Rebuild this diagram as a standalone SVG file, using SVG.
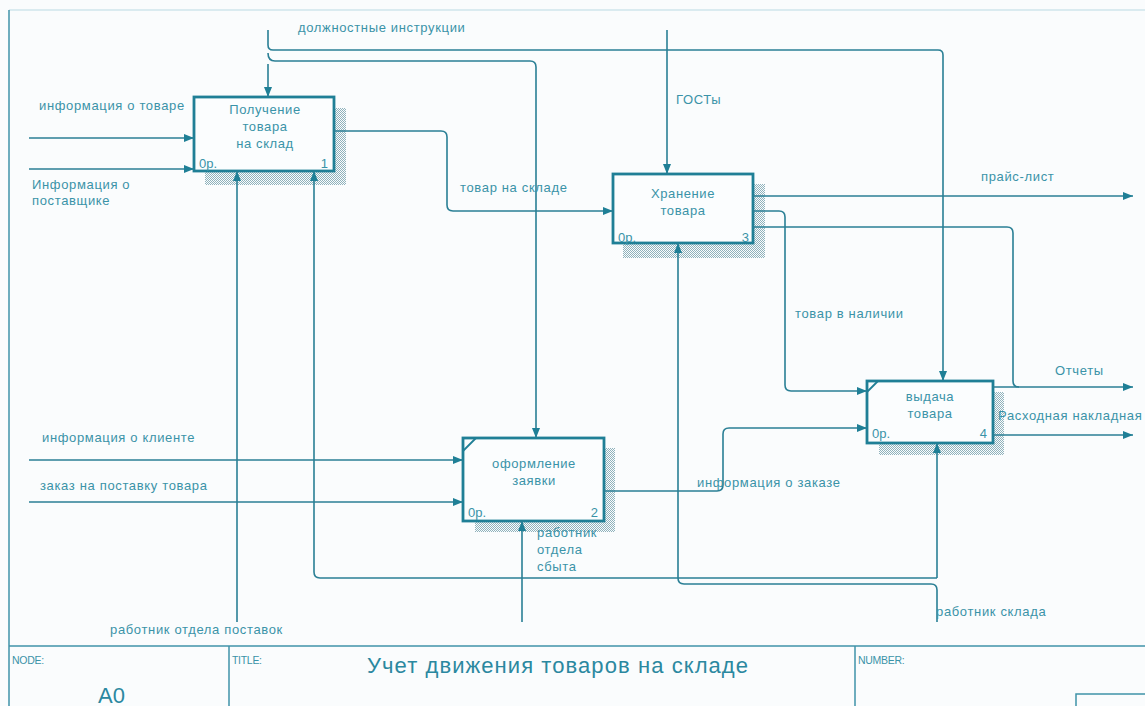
<svg xmlns="http://www.w3.org/2000/svg" width="1145" height="706" viewBox="0 0 1145 706">
<style>
.bg{fill:#fafcfd}
.frame{stroke:#3f93a8;stroke-width:1.5;fill:none}
.light{stroke:#b9d9e3;stroke-width:1.2;fill:none}
.box{fill:#fbfdfe;stroke:#1f7f96;stroke-width:2.8}
.shadow{fill:url(#hatch)}
.notch{stroke:#1f7f96;stroke-width:1.8;fill:none}
.conn path{stroke:#2a7f95;stroke-width:1.6;fill:none}
.arr{marker-end:url(#ah)}
text{font-family:"Liberation Sans",Arial,sans-serif;fill:#3a93a8}
.lbl{font-size:13px;letter-spacing:0.65px}
.nt{font-size:13px;letter-spacing:0.6px;text-anchor:middle}
.cn{font-size:13px}
.small{font-size:10.5px;letter-spacing:-0.3px}
.title{font-size:22px;fill:#2b88a0}
.node{font-size:22px;fill:#2b88a0}
</style>
<defs>
<pattern id="hatch" width="2" height="2" patternUnits="userSpaceOnUse">
<rect x="0" y="0" width="1" height="1" fill="#8fb2bc"/>
<rect x="1" y="1" width="1" height="1" fill="#8fb2bc"/>
</pattern>
<marker id="ah" viewBox="0 0 10 8" refX="10" refY="4" markerWidth="10" markerHeight="8" markerUnits="userSpaceOnUse" orient="auto">
<path d="M0,0 L10,4 L0,8 z" fill="#1f7f96"/>
</marker>
</defs>
<rect class="bg" x="0" y="0" width="1145" height="706"/>
<g id="frame">
<line class="light" x1="9" y1="10" x2="1145" y2="10"/>
<line class="frame" x1="9" y1="10" x2="9" y2="706"/>
<line class="frame" x1="9" y1="646" x2="1145" y2="646"/>
<line class="frame" x1="229" y1="646" x2="229" y2="706"/>
<line class="frame" x1="855" y1="646" x2="855" y2="706"/>
<rect class="frame" x="1076" y="694" width="80" height="20"/>
<text class="small" x="12" y="664">NODE:</text>
<text class="node" x="98" y="703">A0</text>
<text class="small" x="232" y="664">TITLE:</text>
<text class="title" x="367" y="673" textLength="381" lengthAdjust="spacing">Учет движения товаров на складе</text>
<text class="small" x="858" y="664">NUMBER:</text>
</g>
<g id="node1">
<rect class="shadow" x="205" y="108" width="141" height="77"/>
<rect class="box" x="194" y="97" width="140" height="74"/>
<text class="nt" x="265" y="114">Получение</text>
<text class="nt" x="265" y="131">товара</text>
<text class="nt" x="265" y="148">на склад</text>
<text class="cn" x="199" y="168">0р.</text>
<text class="cn" x="328" y="168" text-anchor="end">1</text>
</g>
<g id="node3">
<rect class="shadow" x="623" y="184" width="142" height="74"/>
<rect class="box" x="613" y="174" width="140" height="69"/>
<text class="nt" x="683" y="198">Хранение</text>
<text class="nt" x="683" y="215">товара</text>
<text class="cn" x="618" y="242">0р.</text>
<text class="cn" x="749" y="242" text-anchor="end">3</text>
</g>
<g id="node2">
<rect class="shadow" x="475" y="448" width="140" height="84"/>
<rect class="box" x="463" y="438" width="141" height="83"/>
<path class="notch" d="M463,451 L476,438"/>
<text class="nt" x="534" y="468">оформление</text>
<text class="nt" x="534" y="485">заявки</text>
<text class="cn" x="468" y="517">0р.</text>
<text class="cn" x="598" y="517" text-anchor="end">2</text>
</g>
<g id="node4">
<rect class="shadow" x="879" y="392" width="125" height="63"/>
<rect class="box" x="867" y="381" width="126" height="62"/>
<path class="notch" d="M867,392 L878,381"/>
<text class="nt" x="930" y="401">выдача</text>
<text class="nt" x="930" y="418">товара</text>
<text class="cn" x="872" y="438">0р.</text>
<text class="cn" x="987" y="438" text-anchor="end">4</text>
</g>
<g id="connectors" class="conn">
<path class="arr" d="M29,138 H194"/>
<path class="arr" d="M29,169 H194"/>
<path class="arr" d="M268,64 V97"/>
<path class="arr" d="M268,30 V45 Q268,50 273,50 H938 Q943,50 943,55 V381"/>
<path class="arr" d="M268,53 Q268,61 275,61 H530 Q536,61 536,67 V438"/>
<path class="arr" d="M667,30 V174"/>
<path class="arr" d="M334,131 H441 Q447,131 447,137 V205 Q447,211 453,211 H613"/>
<path class="arr" d="M753,196 H1133"/>
<path class="arr" d="M753,211 H779 Q785,211 785,217 V385 Q785,391 791,391 H867"/>
<path d="M753,227 H1007 Q1013,227 1013,233 V381 Q1013,387 1019,387"/>
<path class="arr" d="M993,387 H1133"/>
<path class="arr" d="M993,435 H1133"/>
<path class="arr" d="M604,491 H717 Q723,491 723,485 V434 Q723,428 729,428 H867"/>
<path class="arr" d="M29,460 H463"/>
<path class="arr" d="M29,502 H463"/>
<path class="arr" d="M237,622 V171"/>
<path class="arr" d="M522,622 V521"/>
<path class="arr" d="M937,622 V590 Q937,584 931,584 H684 Q678,584 678,578 V243"/>
<path class="arr" d="M937,578 H320 Q314,578 314,572 V171"/>
<path class="arr" d="M937,578 V443"/>
</g>
<g id="labels">
<text class="lbl" x="298" y="32">должностные инструкции</text>
<text class="lbl" x="676" y="104">ГОСТы</text>
<text class="lbl" x="39" y="110">информация о товаре</text>
<text class="lbl" x="32" y="189">Информация о</text>
<text class="lbl" x="32" y="205">поставщике</text>
<text class="lbl" x="460" y="192">товар на складе</text>
<text class="lbl" x="981" y="181">прайс-лист</text>
<text class="lbl" x="795" y="318">товар в наличии</text>
<text class="lbl" x="1055" y="375">Отчеты</text>
<text class="lbl" x="998" y="420">Расходная накладная</text>
<text class="lbl" x="42" y="442">информация о клиенте</text>
<text class="lbl" x="40" y="490">заказ на поставку товара</text>
<text class="lbl" x="697" y="487">информация о заказе</text>
<text class="lbl" x="537" y="537">работник</text>
<text class="lbl" x="537" y="554">отдела</text>
<text class="lbl" x="537" y="571">сбыта</text>
<text class="lbl" x="110" y="634">работник отдела поставок</text>
<text class="lbl" x="936" y="616">работник склада</text>
</g>
</svg>
